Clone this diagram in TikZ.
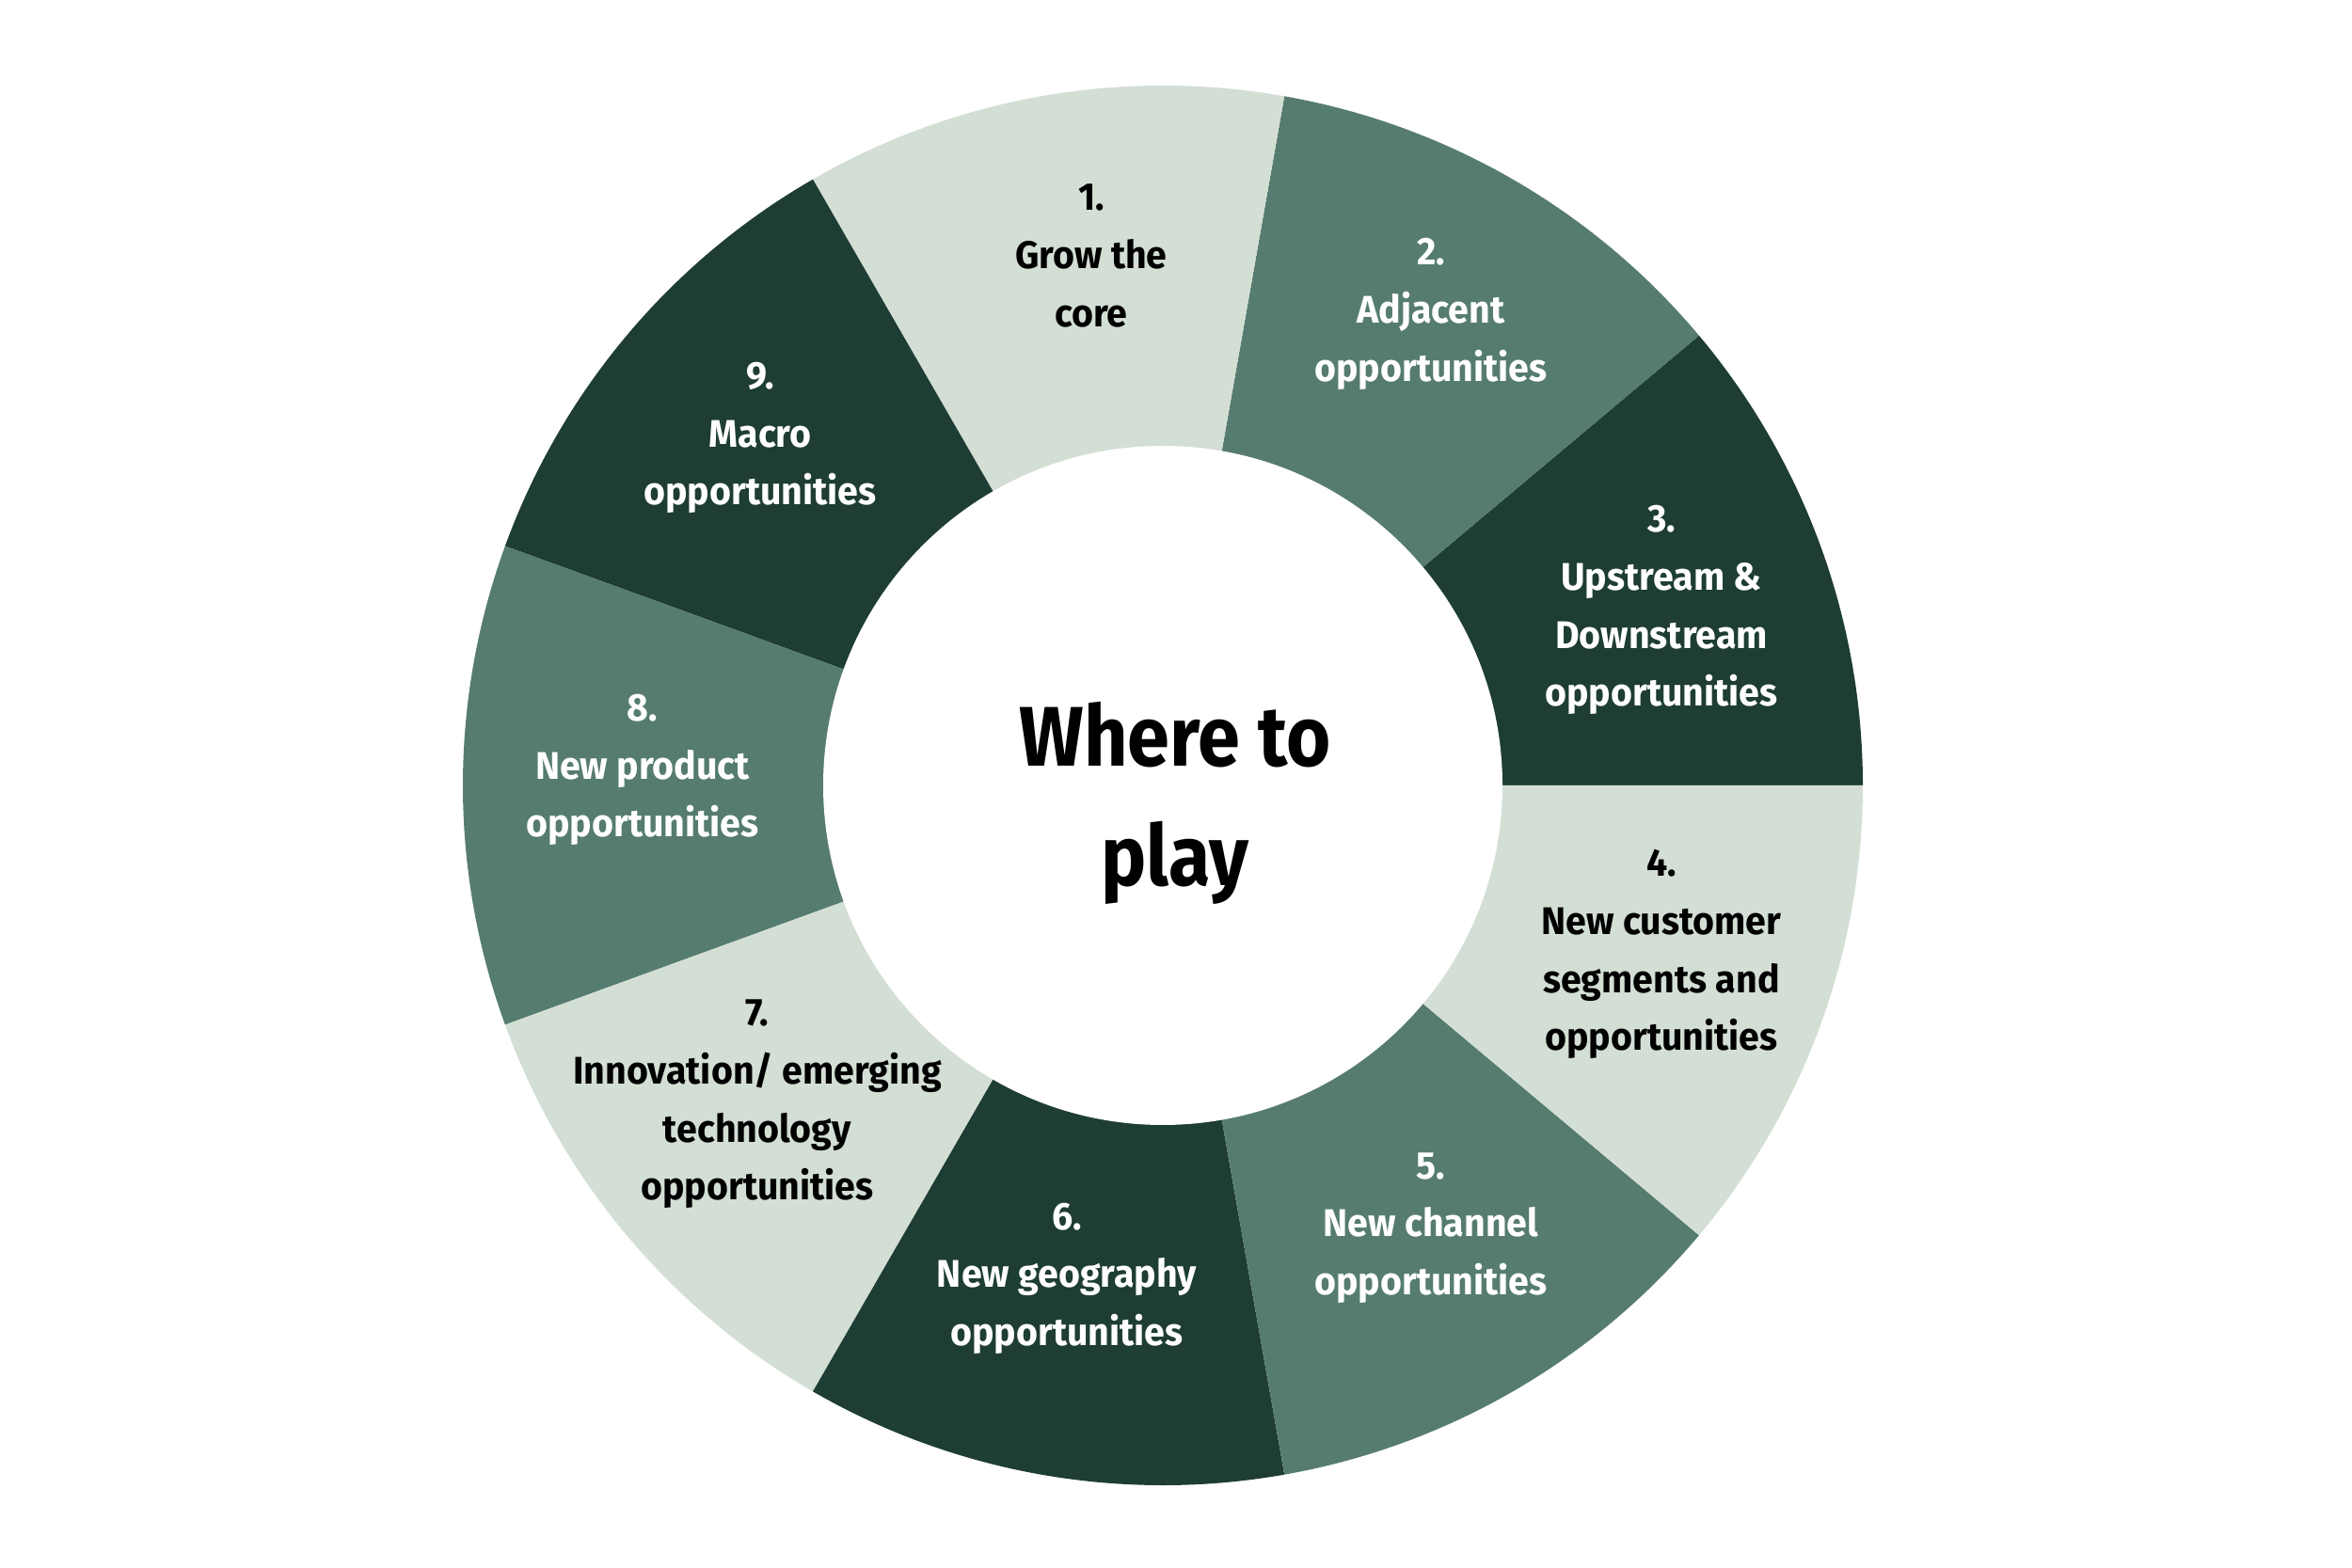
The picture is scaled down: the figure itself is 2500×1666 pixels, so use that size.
\documentclass[tikz,border=0pt]{standalone}
\usepackage{fontspec}
\setmainfont[FakeStretch=0.96]{Fira Sans}
\newfontfamily\ctrfont[FakeStretch=0.9]{Fira Sans}
\definecolor{segdark}{HTML}{1E3D34}
\definecolor{segmid}{HTML}{567C70}
\definecolor{seglight}{HTML}{D3DED4}
\begin{document}
\begin{tikzpicture}[x=1pt,y=1pt,
  lbl/.style={inner sep=0pt, align=center, anchor=base, font=\fontsize{41}{61.7}\selectfont\bfseries},
  onlight/.style={lbl, text=black},
  ondark/.style={lbl, text=white}]
\useasboundingbox (0,0) rectangle (2500,1666);
\coordinate (C) at (1236,831);
\def\rO{744}
\def\rI{361}
\foreach \a/\c in {0/segdark,40/segmid,80/seglight,120/segdark,160/segmid,200/seglight,240/segdark,280/segmid,320/seglight}{
  \fill[\c] (C) -- ++(\a:\rO) arc[start angle=\a, end angle=\a+40, radius=\rO] -- cycle;
}
\fill[white] (C) circle[radius=\rI];
\node[onlight] (s1) at (1160,1318.6) {1.\\Grow the\\core};
\node[ondark] (s2) at (1521,1260.6) {2.\\Adjacent\\opportunities};
\node[ondark] (s3) at (1766,915) {3.\\Upstream \&\\Downstream\\opportunities};
\node[onlight] (s4) at (1766,549) {4.\\New customer\\segments and\\opportunities};
\node[ondark] (s5) at (1521,289.5) {5.\\New channel\\opportunities};
\node[ondark] (s6) at (1134,235.5) {6.\\New geography\\opportunities};
\node[onlight] (s7) at (805,390) {7.\\Innovation/ emerging\\technology\\opportunities};
\node[ondark] (s8) at (683,776) {8.\\New product\\opportunities};
\node[ondark] (s9) at (808,1129) {9.\\Macro\\opportunities};
\node[inner sep=0pt, align=center, anchor=base, font=\ctrfont\fontsize{90}{127}\selectfont\bfseries] (ctr) at (1249,724) {Where to\\play};
\end{tikzpicture}
\end{document}
